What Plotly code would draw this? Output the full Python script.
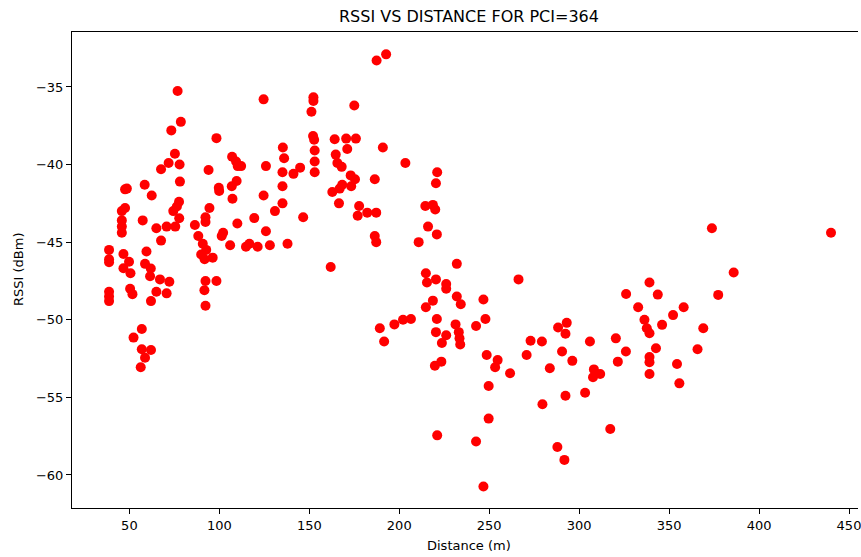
import plotly.graph_objects as go

# Distance (m) and RSSI (dBm) readings
distance_m = [
    38.7, 38.7, 38.7, 38.7, 38.7, 38.7,
    45.8, 45.8, 45.8, 45.8, 47.6, 47.6, 48.6, 46.7, 46.7, 49.8, 50.6, 50.4, 51.7,
    52.3, 56.9, 56.9, 56.3, 58.7, 62.0, 57.4, 58.5, 59.5, 58.7, 61.9, 61.5, 62.4,
    62.0, 65.0, 65.0, 67.0, 67.6, 67.6, 70.7, 70.7, 71.8, 72.2, 73.3, 74.4, 75.3,
    75.5, 76.4, 76.8, 77.6, 77.7, 77.9, 78.1, 78.6,
    86.4, 88.3, 89.9, 90.8, 91.8, 92.7, 96.3, 92.3, 92.3, 92.3, 92.3, 91.7, 98.4, 98.4,
    94.0, 94.5, 99.7, 99.9, 101.3, 102.1, 106.0, 106.9, 107.1, 107.3, 109.3, 109.6,
    110.0, 110.2, 112.1, 114.8, 116.7, 119.4, 121.3, 124.6, 124.6, 125.9, 125.9,
    128.1, 130.9, 135.1, 135.1, 135.1, 135.3, 136.0, 137.9, 141.2, 144.9, 146.6,
    151.2, 152.3, 152.3, 152.1, 152.7, 153.0, 153.0, 153.0,
    161.9, 162.8, 164.1, 164.7, 165.6, 166.5, 166.9, 168.0, 168.3, 170.5, 171.1,
    173.0, 173.3, 175.0, 175.4, 175.9, 176.9, 177.7, 182.2, 186.4, 186.4, 187.2,
    187.2, 187.4, 189.2, 190.9, 191.6, 192.7, 197.3, 202.1, 203.4, 206.5, 210.8,
    214.5, 214.8, 214.8, 215.4, 216.0, 218.7, 218.7, 219.8, 220.0, 220.4, 220.4,
    220.4, 220.9, 220.9, 221.1, 221.1, 223.4, 223.7, 226.1, 226.1, 226.1,
    231.3, 232.0, 232.0, 233.1, 233.5, 233.9, 234.2, 242.7, 242.7, 246.8, 246.8,
    247.9, 248.6, 249.7, 249.7, 253.3, 254.7, 261.6, 266.3, 270.8, 273.0, 279.3,
    279.6, 283.7, 287.9, 288.3, 290.5, 291.8, 292.4, 292.4, 293.1, 296.2, 303.3,
    306.0, 307.7, 308.2, 311.7, 317.3, 320.4, 321.5, 326.0, 326.1, 332.8, 336.3,
    337.6, 339.1, 339.1, 339.1, 339.1, 339.1, 342.7, 343.7, 346.1, 352.2, 354.4,
    355.7, 358.1, 365.8, 369.0, 373.8, 377.3, 385.9, 440.0,
]
rssi_dbm = [
    -45.5, -46.1, -46.3, -48.2, -48.5, -48.8,
    -43.0, -43.6, -44.0, -44.4, -42.8, -41.6, -41.55, -45.76, -46.68, -46.26, -47.0, -48.0, -48.35,
    -51.15, -50.6, -51.9, -53.06, -52.45, -51.95, -43.6, -41.3, -45.6, -46.4, -46.7, -47.2, -42.0,
    -48.8, -44.1, -48.2, -47.4, -40.3, -44.9, -44.0, -48.3, -39.9, -47.55, -37.8, -43.0, -39.3,
    -44.0, -42.7, -35.26, -42.4, -43.46, -40.0, -41.1, -37.25,
    -43.9, -44.6, -45.8, -45.1, -46.1, -45.5, -46.0, -43.4, -43.7, -47.5, -49.1, -48.1, -47.5, -38.3,
    -40.35, -42.8, -41.5, -41.7, -44.6, -44.4, -45.2, -41.4, -39.5, -42.2, -39.8, -41.06,
    -43.8, -40.1, -40.1, -45.3, -45.1, -43.45, -45.3, -35.8, -42.0, -40.1, -44.3,
    -45.2, -43.0, -40.5, -41.4, -42.5, -38.9, -39.6, -45.1, -40.6, -40.2, -43.4,
    -36.6, -35.66, -35.9, -38.16, -38.4, -39.1, -39.8, -40.5,
    -46.6, -41.77, -38.37, -39.36, -39.9, -42.5, -41.55, -40.15, -41.3, -38.33, -39.0,
    -40.7, -41.4, -36.2, -40.95, -38.33, -43.3, -42.67, -43.1, -40.95, -44.6, -43.1,
    -45.0, -33.3, -50.55, -38.9, -51.4, -32.9, -50.3, -50.0, -39.9, -49.95, -45.0,
    -42.67, -47.0, -49.2, -47.6, -44.0, -42.6, -48.77, -52.96, -42.9, -41.2, -47.4,
    -50.8, -44.5, -49.95, -40.5, -57.45, -52.7, -51.5, -47.7, -48.0, -51.0,
    -50.3, -46.4, -48.5, -50.8, -51.2, -51.6, -49.0, -50.4, -57.85, -48.7, -60.75,
    -49.95, -52.27, -54.27, -56.37, -53.06, -52.6, -53.45, -47.4, -52.27, -51.35, -51.4,
    -55.45, -53.13, -58.2, -50.5, -52.05, -59.03, -50.9, -54.9, -50.2, -52.65, -54.7,
    -51.4, -53.7, -53.2, -53.5, -57.04, -51.2, -52.7, -52.05, -48.34, -49.2, -50.0,
    -50.55, -47.6, -50.87, -52.4, -52.74, -53.5, -51.84, -48.38, -50.33, -49.7, -52.85,
    -54.1, -49.2, -51.9, -50.55, -44.1, -48.4, -46.96, -44.4,
]

x_ticks = [50, 100, 150, 200, 250, 300, 350, 400, 450]
y_ticks = [-60, -55, -50, -45, -40, -35]
y_tick_text = ["\u2212" + str(abs(t)) for t in y_ticks]

FONT = "DejaVu Sans"

fig = go.Figure()
fig.add_trace(go.Scatter(
    x=distance_m, y=rssi_dbm, mode="markers",
    marker=dict(color="#ff0000", size=10, line=dict(width=0)),
    showlegend=False,
))

fig.update_layout(
    width=861, height=557,
    margin=dict(l=72, r=0, t=32, b=49),
    paper_bgcolor="white", plot_bgcolor="white",
    font=dict(family=FONT, size=13, color="black"),
    xaxis=dict(
        range=[18.1, 455.0], tickvals=x_ticks, ticks="outside", ticklen=5,
        tickcolor="black", showline=True, linecolor="black", linewidth=1.1,
        mirror=True, showgrid=False, zeroline=False, ticklabeloverflow="allow",
        tickfont=dict(family=FONT, size=13, color="black"),
    ),
    yaxis=dict(
        range=[-62.13, -31.46], tickvals=y_ticks, ticktext=y_tick_text,
        ticks="outside", ticklen=5, tickcolor="black", showline=True,
        linecolor="black", linewidth=1.1, showgrid=False, zeroline=False,
        tickfont=dict(family=FONT, size=13, color="black"),
    ),
    annotations=[
        dict(text="RSSI VS DISTANCE FOR PCI=364", xref="paper", yref="paper",
             x=0.5057, y=1.0, yshift=16, xanchor="center", yanchor="middle",
             showarrow=False, font=dict(family=FONT, size=16, color="black")),
        dict(text="Distance (m)", xref="paper", yref="paper",
             x=0.5057, y=0, yshift=-37, xanchor="center", yanchor="middle",
             showarrow=False, font=dict(family=FONT, size=13, color="black")),
        dict(text="RSSI (dBm)", xref="paper", yref="paper",
             x=0, xshift=-54, y=0.5, xanchor="center", yanchor="middle",
             textangle=-90, showarrow=False,
             font=dict(family=FONT, size=13, color="black")),
    ],
)

fig.write_html("out.html")
